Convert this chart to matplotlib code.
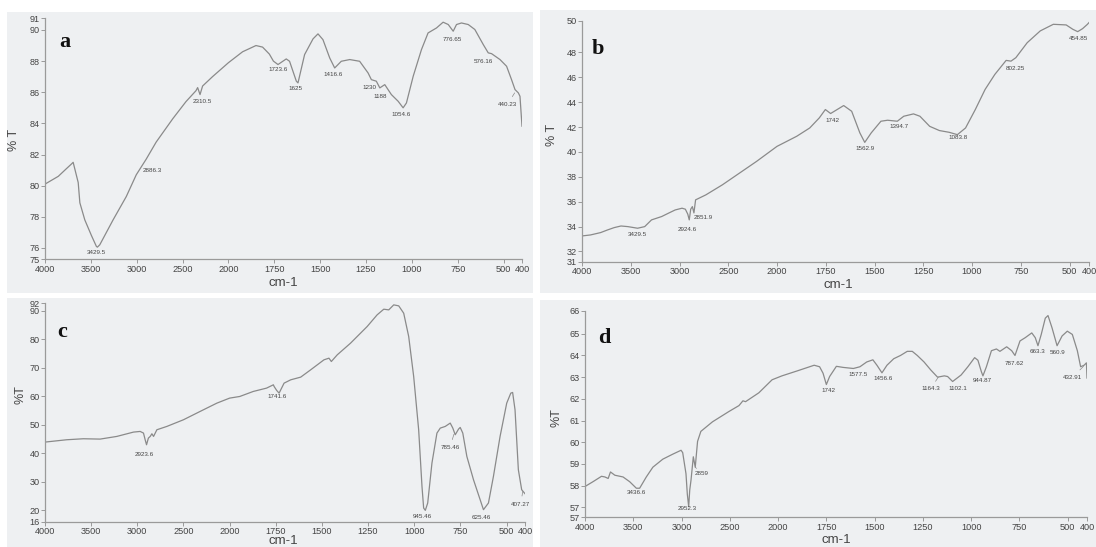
import numpy as np
import matplotlib
matplotlib.use("Agg")
import matplotlib.pyplot as plt
from matplotlib.patches import Rectangle

plt.rcParams['font.family'] = ['Liberation Sans Narrow', 'Liberation Sans', 'DejaVu Sans']

# ---------------- data ----------------
x_ticks = [4000, 3500, 3000, 2500, 2000, 1750, 1500, 1250, 1000, 750, 500, 400]

a_wn = [4000, 3855, 3765, 3710, 3693, 3638, 3620, 3566, 3494, 3440, 3429, 3403, 3258, 3114,
        3005, 2897, 2788, 2607, 2463, 2354, 2336, 2310, 2282, 2174, 2000, 1923, 1850, 1814,
        1777, 1755, 1730, 1685, 1667, 1630, 1621, 1585, 1539, 1512, 1485, 1448, 1421, 1385,
        1339, 1285, 1239, 1221, 1194, 1175, 1148, 1112, 1075, 1048, 1030, 993, 948, 912,
        866, 830, 802, 775, 757, 730, 693, 657, 611, 584, 566, 520, 484, 457, 438, 420,
        411, 400]
a_t = [80.1, 80.6, 81.1, 81.4, 81.5, 80.2, 78.9, 77.8, 76.8, 76.1, 76.05, 76.2, 77.8, 79.3,
       80.7, 81.7, 82.8, 84.3, 85.4, 86.1, 86.3, 85.85, 86.4, 87.0, 87.9, 88.6, 89.0, 88.9,
       88.45, 88.0, 87.78, 88.14, 87.99, 86.71, 86.6, 88.42, 89.43, 89.75, 89.38, 88.2, 87.56,
       87.99, 88.1, 87.99, 87.24, 86.81, 86.71, 86.28, 86.49, 85.85, 85.42, 85.0, 85.31,
       87.03, 88.74, 89.81, 90.13, 90.5, 90.35, 89.92, 90.35, 90.45, 90.35, 90.03, 89.06,
       88.53, 88.48, 88.1, 87.67, 86.81, 86.17, 85.96, 85.74, 83.82]
a_labels = ["3429.5", "2886.3", "2310.5", "1723.6", "1625", "1416.6", "1230", "1188",
            "1054.6", "776.65", "576.16", "440.23"]

b_wn = [4000, 3913, 3809, 3739, 3670, 3600, 3530, 3430, 3357, 3287, 3183, 3113, 3044, 2974,
        2940, 2915, 2900, 2885, 2868, 2852, 2835, 2730, 2560, 2385, 2210, 2000, 1899, 1832,
        1783, 1752, 1725, 1658, 1617, 1575, 1550, 1517, 1467, 1433, 1383, 1350, 1300, 1267,
        1217, 1167, 1117, 1075, 1033, 983, 933, 883, 825, 800, 775, 717, 650, 583, 517, 483,
        458, 433, 408, 400]
b_t = [33.25, 33.33, 33.52, 33.73, 33.92, 34.05, 34.0, 33.87, 34.0, 34.54, 34.81, 35.08,
       35.34, 35.48, 35.4, 35.0, 34.54, 35.4, 35.61, 35.1, 36.15, 36.55, 37.36, 38.3, 39.24,
       40.45, 41.26, 41.93, 42.74, 43.41, 43.09, 43.73, 43.27, 41.53, 40.77, 41.53, 42.47,
       42.55, 42.47, 42.87, 43.06, 42.87, 42.06, 41.72, 41.58, 41.39, 41.93, 43.41, 45.02,
       46.23, 47.36, 47.3, 47.58, 48.78, 49.73, 50.26, 50.21, 49.86, 49.67, 49.91, 50.26, 50.4]
b_labels = ["3429.5", "2924.6", "2851.9", "1742", "1562.9", "1394.7", "1083.8", "802.25",
            "454.85"]

c_wn = [4000, 3765, 3584, 3403, 3222, 3041, 2969, 2933, 2915, 2900, 2880, 2860, 2842, 2824,
        2788, 2680, 2500, 2320, 2138, 2000, 1945, 1872, 1800, 1763, 1759, 1745, 1732, 1705,
        1669, 1615, 1561, 1489, 1462, 1449, 1417, 1345, 1255, 1201, 1165, 1138, 1111, 1084,
        1057, 1030, 1003, 976, 958, 949, 940, 927, 904, 877, 859, 832, 805, 791, 778, 760,
        751, 737, 715, 679, 643, 625, 598, 571, 535, 499, 477, 467, 454, 436, 418, 400]
c_t = [43.86, 44.68, 45.03, 44.91, 45.85, 47.37, 47.6, 47.02, 44.68, 42.92, 45.26, 45.85,
       46.78, 45.85, 48.19, 49.36, 51.7, 54.62, 57.54, 59.3, 59.88, 61.64, 62.81, 63.98,
       63.39, 62.0, 61.05, 64.56, 65.73, 66.67, 69.24, 72.75, 73.33, 72.16, 74.5, 78.6,
       84.44, 88.54, 90.53, 90.29, 92.05, 91.7, 89.12, 80.94, 66.9, 48.19, 28.3, 20.7, 19.88,
       22.46, 36.5, 47.02, 48.77, 49.36, 50.53, 48.77, 46.43, 48.42, 49.0, 47.02, 38.83,
       30.64, 23.63, 20.12, 22.46, 31.81, 45.85, 57.54, 61.05, 61.29, 55.2, 34.15, 27.13,
       25.73]
c_labels = ["2923.6", "1741.6", "945.46", "785.46", "625.46", "407.27"]

d_wn = [4000, 3914, 3829, 3794, 3760, 3736, 3691, 3606, 3537, 3468, 3434, 3365, 3297, 3194,
        3091, 3005, 2988, 2954, 2940, 2926, 2915, 2902, 2878, 2858, 2845, 2834, 2800, 2680,
        2508, 2405, 2364, 2337, 2199, 2062, 1980, 1897, 1813, 1785, 1767, 1750, 1733, 1698,
        1663, 1610, 1576, 1541, 1509, 1488, 1462, 1436, 1401, 1366, 1331, 1305, 1279, 1244,
        1209, 1174, 1139, 1122, 1096, 1052, 1017, 982, 965, 947, 939, 921, 895, 869, 851,
        816, 790, 773, 747, 720, 686, 668, 654, 637, 616, 602, 581, 555, 529, 502, 476, 450,
        433, 415, 403, 400]
d_t = [57.96, 58.19, 58.43, 58.4, 58.33, 58.63, 58.48, 58.4, 58.18, 57.88, 57.88, 58.4,
       58.85, 59.22, 59.45, 59.63, 59.52, 58.55, 57.6, 57.03, 57.8, 58.25, 59.33, 58.85,
       59.5, 60.04, 60.5, 60.94, 61.42, 61.69, 61.91, 61.87, 62.28, 62.88, 63.06, 63.3,
       63.55, 63.48, 63.18, 62.66, 63.03, 63.5, 63.45, 63.4, 63.48, 63.7, 63.8, 63.55, 63.2,
       63.55, 63.85, 64.0, 64.19, 64.19, 64.0, 63.7, 63.33, 63.0, 63.06, 63.03, 62.8, 63.1,
       63.48, 63.9, 63.78, 63.25, 63.06, 63.48, 64.22, 64.3, 64.19, 64.4, 64.22, 64.0, 64.67,
       64.82, 65.04, 64.82, 64.45, 64.97, 65.72, 65.84, 65.27, 64.45, 64.9, 65.12, 64.97,
       64.22, 63.48, 63.55, 63.66, 62.96]
d_labels = ["3436.6", "2952.3", "2859", "1742", "1577.5", "1456.6", "1164.3", "1102.1",
            "944.87", "787.62", "663.3", "560.9", "432.91"]

# y-axis tick values and their printed labels (axis ends labelled by rounded value)
a_yt = [75.27, 76, 78, 80, 82, 84, 86, 88, 90, 90.75]
a_yl = ["75", "76", "78", "80", "82", "84", "86", "88", "90", "91"]
b_yt = [31.18, 32, 34, 36, 38, 40, 42, 44, 46, 48, 50.55]
b_yl = ["31", "32", "34", "36", "38", "40", "42", "44", "46", "48", "50"]
c_yt = [15.9, 20, 30, 40, 50, 60, 70, 80, 90, 92.6]
c_yl = ["16", "20", "30", "40", "50", "60", "70", "80", "90", "92"]
d_yt = [56.54, 57, 58, 59, 60, 61, 62, 63, 64, 65, 66.05]
d_yl = ["57", "57", "58", "59", "60", "61", "62", "63", "64", "65", "66"]

# ---------------- layout ----------------
W, H = 1096, 547
fig = plt.figure(figsize=(W / 100, H / 100), dpi=100)
fig.patch.set_facecolor("white")

BG = "#eef0f2"
for (x0, y0, x1, y1) in [(7, 12, 533, 293), (540, 10, 1096, 293),
                         (7, 298, 533, 547), (540, 300, 1096, 547)]:
    fig.patches.append(Rectangle((x0 / W, 1 - y1 / H), (x1 - x0) / W, (y1 - y0) / H,
                                 transform=fig.transFigure, facecolor=BG,
                                 edgecolor="none", zorder=-5))


def fwd(w):
    w = np.asarray(w, dtype=float)
    return np.where(w >= 2000, w, 2 * w - 2000)


def inv(u):
    u = np.asarray(u, dtype=float)
    return np.where(u >= 2000, u, (u + 2000) / 2)


def px_axes(l, r, t, b):
    return [l / W, 1 - b / H, (r - l) / W, (b - t) / H]


LINE = "#8a8a8a"
TXT = "#444444"
SP = "#9a9a9a"


def setup(rect, wn, t, yt, yl, letter, letter_pos, ylab, ylab_pos, xlab_pos):
    ax = fig.add_axes(rect)
    ax.set_zorder(2)
    ax.set_facecolor("none")
    ax.set_xscale("function", functions=(fwd, inv))
    ax.plot(wn, t, color=LINE, lw=0.9)
    ax.set_xlim(4000, 400)
    ax.set_ylim(yt[0], yt[-1])
    ax.set_xticks(x_ticks)
    ax.set_xticklabels([str(v) for v in x_ticks])
    ax.xaxis.set_minor_locator(matplotlib.ticker.NullLocator())
    ax.set_yticks(yt)
    ax.set_yticklabels(yl)
    for s in ("top", "right"):
        ax.spines[s].set_visible(False)
    for s in ("left", "bottom"):
        ax.spines[s].set_color(SP)
        ax.spines[s].set_linewidth(0.9)
    ax.tick_params(axis="both", which="major", labelsize=6.6, colors=SP,
                   labelcolor=TXT, length=3, width=0.7, pad=1)
    fig.text(letter_pos[0] / W, 1 - letter_pos[1] / H, letter, family="Liberation Serif",
             fontweight="bold", fontsize=16, ha="center", va="center", color="#111111")
    fig.text(ylab_pos[0] / W, 1 - ylab_pos[1] / H, ylab, rotation=90, fontsize=9,
             ha="center", va="center", color=TXT)
    fig.text(xlab_pos[0] / W, 1 - xlab_pos[1] / H, "cm-1", fontsize=9.5,
             ha="center", va="center", color=TXT)
    return ax


def label(ax, txt, pos, target=None):
    if target is None:
        ax.text(pos[0], pos[1], txt, fontsize=4.5, ha="center", va="center", color=TXT)
    else:
        ax.annotate(txt, xy=target, xytext=pos, fontsize=4.5, ha="center", va="center",
                    color=TXT, arrowprops=dict(arrowstyle="-", lw=0.5, color=LINE,
                                               shrinkA=2, shrinkB=0))


# panel a
axa = setup(px_axes(45, 522, 18.3, 259.3), a_wn, a_t, a_yt, a_yl, "a", (65, 42),
            "% T", (14, 140), (283, 283))
a_pos = [(3435, 75.68), (2830, 80.95), (2290, 85.38), (1731, 87.43), (1634, 86.26),
         (1430, 87.11), (1234, 86.32), (1175, 85.72), (1061, 84.54), (780, 89.4),
         (611, 87.97), (479, 85.23)]
for txt, p in zip(a_labels, a_pos):
    label(axa, txt, p, (440, 85.96) if txt == "440.23" else None)

# panel b
axb = setup(px_axes(582, 1089, 20.7, 261.7), b_wn, b_t, b_yt, b_yl, "b", (598, 49),
            "% T", (552, 135), (838, 285))
b_pos = [(3435, 33.4), (2921, 33.8), (2757, 34.76), (1714, 42.55), (1549, 40.27),
         (1373, 42.06), (1071, 41.18), (775, 46.7), (452, 49.1)]
for txt, p in zip(b_labels, b_pos):
    label(axb, txt, p)

# panel c
axc = setup(px_axes(45, 525, 303.3, 521.7), c_wn, c_t, c_yt, c_yl, "c", (62, 332),
            "%T", (20, 395), (283, 541.5))
c_pos = [(2930, 39.4), (1745, 59.75), (955, 17.75), (807, 41.96), (635, 17.2), (424, 22.1)]
c_tg = {"785.46": (785, 46.6), "407.27": (412, 26.5)}
for txt, p in zip(c_labels, c_pos):
    label(axc, txt, p, c_tg.get(txt))

# panel d
axd = setup(px_axes(585, 1087, 311.0, 517.3), d_wn, d_t, d_yt, d_yl, "d", (604, 338),
            "%T", (556, 418), (836, 540))
d_pos = [(3468, 57.68), (2943, 56.95), (2789, 58.55), (1740, 62.4), (1587, 63.13),
         (1454, 62.96), (1211, 62.46), (1067, 62.46), (942, 62.85), (778, 63.63),
         (656, 64.18), (552, 64.12), (474, 63.0)]
d_tg = {"1164.3": (1170, 63.0), "432.91": (418, 63.5), "2859": (2858, 58.85)}
for txt, p in zip(d_labels, d_pos):
    label(axd, txt, p, d_tg.get(txt))

fig.savefig("out.png", dpi=100, facecolor="white")
